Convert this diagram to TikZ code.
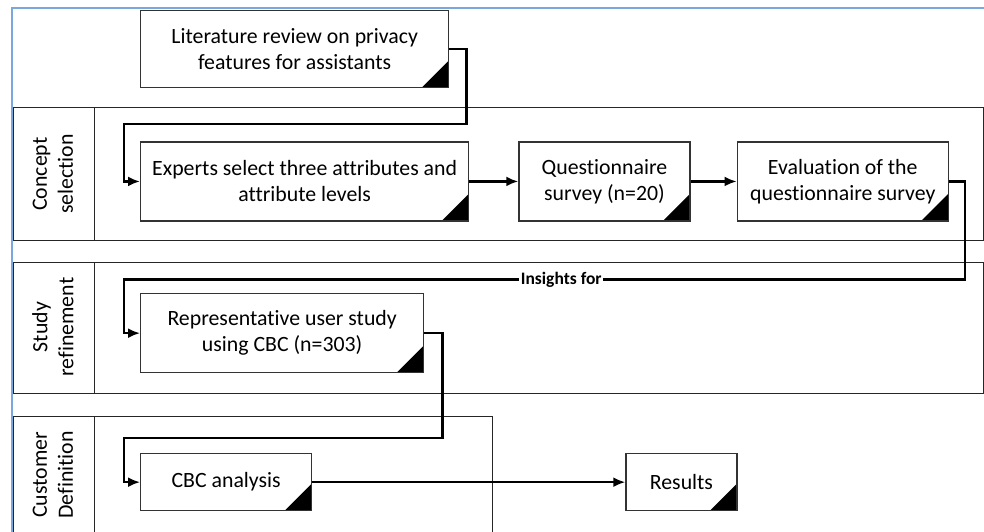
\documentclass[tikz,border=0pt]{standalone}
\usepackage{fontspec}
\setmainfont{Carlito}[Ligatures={NoCommon,NoRequired,NoContextual}]
\usetikzlibrary{positioning,arrows.meta}
\definecolor{framblue}{RGB}{120,168,220}
\tikzset{%
  every step/.style={
    draw=black!80,
    line width=1.3pt,
    align=center,
    inner sep=0pt,
    minimum height=79pt,
    path picture={
      \fill[black] (path picture bounding box.south east)
        -- ++(-27pt,0pt) -- ++(27pt,27pt) -- cycle;
    }
  },
  lane label/.style={
    rotate=90,
    align=center,
    inner sep=0pt
  },
}

\begin{document}
\begin{tikzpicture}[x=1pt,y=-1pt,>={Latex[length=12pt,width=10pt]},
    font=\fontsize{21.8}{26}\selectfont]
      \tikzstyle{flow}=[line width=2.6pt,->]
      \tikzstyle{lane}=[draw=black!85,line width=1pt]

      \useasboundingbox (0,0) rectangle (984,532);

      % frame and lanes
      \draw[framblue,line width=1.6pt] (12,532) -- (12,8) -- (984,8);
      \draw[lane] (13,108) rectangle (983,240);
      \draw[lane] (94,108) -- (94,240);
      \draw[lane] (13,262) rectangle (983,393);
      \draw[lane] (94,262) -- (94,393);
      \draw[lane] (13,532) -- (13,416) -- (492,416) -- (492,532);
      \draw[lane] (94,416) -- (94,532);

      \node[lane label] (l1) at (53,174) {Concept\\selection};
      \node[lane label] (l2) at (53,327) {Study\\refinement};
      \node[lane label] (l3) at (53,475) {Customer\\Definition};

      % steps
      \node[every step,minimum width=308pt,minimum height=77pt,anchor=north west]
        (lit) at (140,10) {Literature review on privacy\\features for assistants};
      \node[every step,minimum width=328pt,below=53pt of lit.south west,anchor=north west]
        (experts) {Experts select three attributes and\\attribute levels};
      \node[every step,minimum width=171pt,right=49pt of experts]
        (quest) {Questionnaire\\survey (n=20)};
      \node[every step,minimum width=211pt,right=46pt of quest]
        (eval) {Evaluation of the\\questionnaire survey};
      \node[every step,minimum width=283pt,anchor=north west]
        (rep) at (140,293) {Representative user study\\using CBC (n=303)};
      \node[every step,minimum width=171pt,minimum height=57pt,anchor=north west]
        (cbc) at (140,453) {CBC analysis};
      \node[every step,minimum width=111pt,minimum height=57pt,right=313pt of cbc]
        (res) {Results};

      % connectors
      \draw[flow] (lit.east) -- ++(17,0) -- ++(0,75) -| ([xshift=-16pt]experts.west) -- (experts.west);
      \draw[flow] (experts) -- (quest);
      \draw[flow] (quest) -- (eval);
      \draw[flow] (eval.east) -- ++(16,0) -- ++(0,98)
        -| node[pos=0.24,fill=white,inner sep=1.5pt,font=\fontsize{17.5}{20}\selectfont\bfseries] {Insights for}
        ([xshift=-16pt]rep.west) -- (rep.west);
      \draw[flow] (rep.east) -- ++(18,0) -- ++(0,105) -| ([xshift=-16pt]cbc.west) -- (cbc.west);
      \draw[flow] (cbc) -- (res);
\end{tikzpicture}
\end{document}
